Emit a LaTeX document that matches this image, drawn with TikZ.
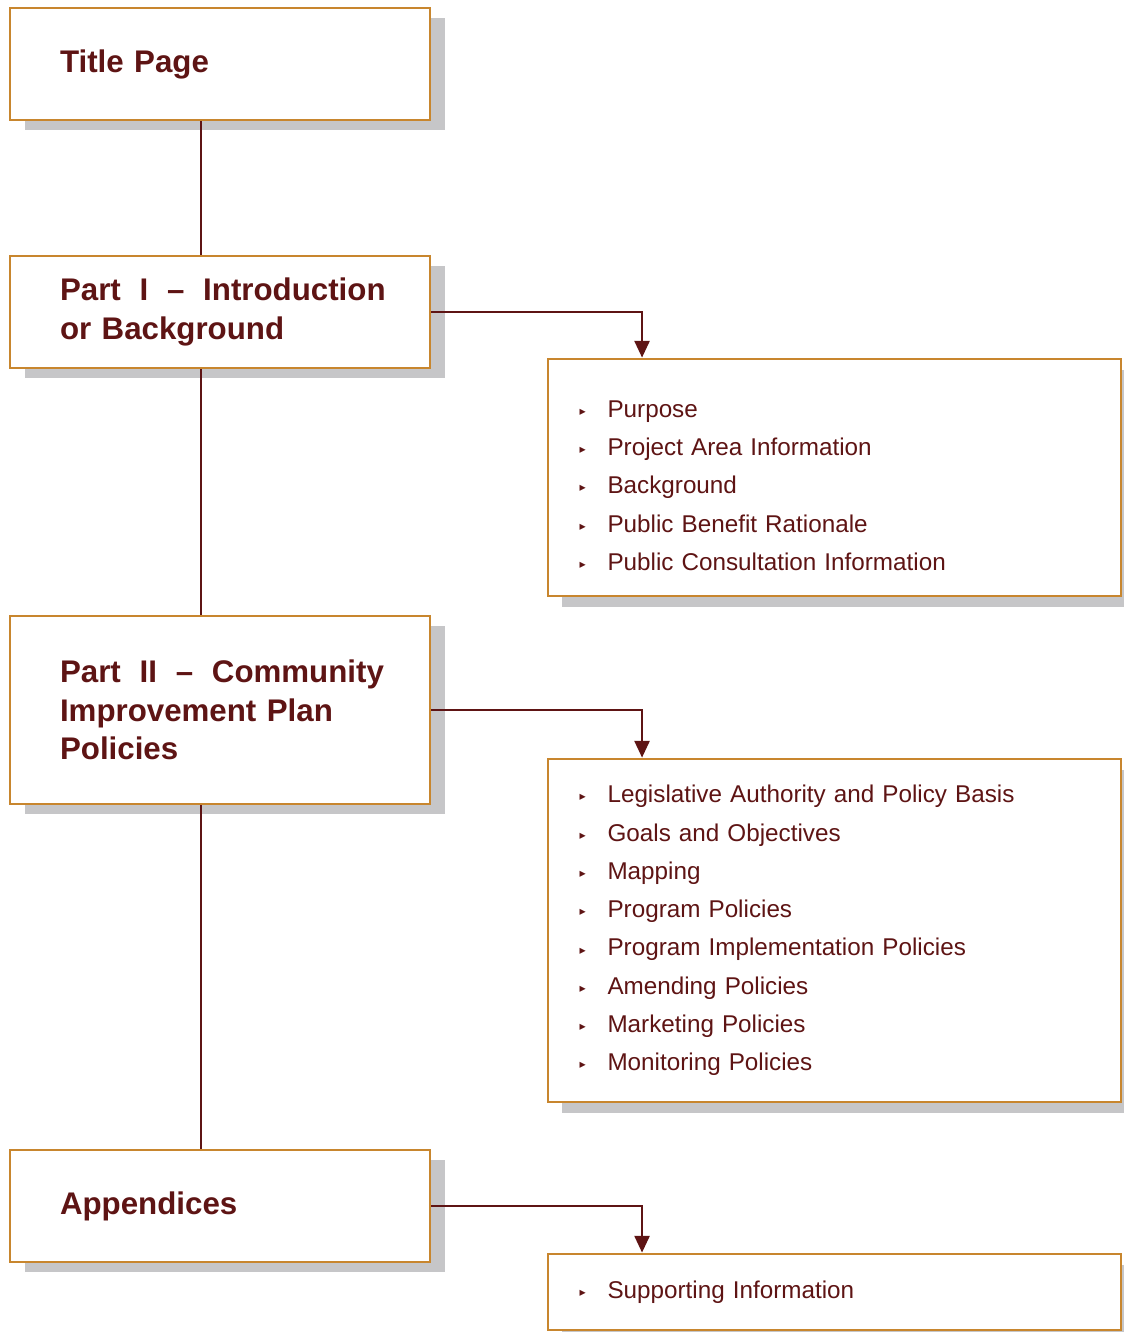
\documentclass[tikz,border=0pt]{standalone}
\usepackage{fontspec}
\setmainfont{Liberation Sans}
\newfontfamily\bulfont{DejaVu Sans}
\usepackage{xcolor}
\usepackage{tikz}
\usetikzlibrary{arrows.meta,shadows}

\definecolor{maroon}{HTML}{5E1414}
\definecolor{ochre}{HTML}{C8862E}
\definecolor{shade}{HTML}{C6C6C8}

\newcommand{\itm}[1]{\makebox[0.56cm][l]{\raisebox{0.15ex}{\bulfont\fontsize{7}{7}\selectfont ▸}}#1}
\newcommand{\gap}{\hspace{0.6em}}

\begin{document}
\begin{tikzpicture}[x=0.02cm, y=-0.02cm]
        \def\lw{8.4cm}
        \def\rw{11.46cm}
        \tikzstyle{part}=[rectangle, draw=ochre, line width=1.6pt, fill=white,
            drop shadow={shadow xshift=0.3cm, shadow yshift=-0.2cm, fill=shade, opacity=1},
            minimum width=\lw, text width=6.4cm, inner xsep=1cm, align=left,
            text=maroon, font=\bfseries\fontsize{17.8}{21.8}\selectfont]
        \tikzstyle{list}=[rectangle, draw=ochre, line width=1.6pt, fill=white,
            drop shadow={shadow xshift=0.28cm, shadow yshift=-0.22cm, fill=shade, opacity=1},
            minimum width=\rw, text width=10.2cm, inner xsep=0.63cm, align=left,
            text=maroon, font=\fontsize{13.8}{21.8}\selectfont]
        \tikzstyle{link}=[draw=maroon, line width=1.4pt]
        \tikzstyle{feed}=[link, -{Triangle[length=9.5pt, width=8.5pt]}]

        \useasboundingbox (0,0) rectangle (1123,1332);

        % Nodes
        \node[part, minimum height=2.24cm] (title) at (220, 64) {Title Page};
        \node[part, minimum height=2.24cm] (part1) at (220, 312) {\mbox{Part\gap I\gap –\gap Introduction}\\or Background};
        \node[part, minimum height=3.76cm] (part2) at (220, 710) {\mbox{Part\gap II\gap –\gap Community}\\Improvement Plan\\Policies};
        \node[part, minimum height=2.24cm] (app) at (220, 1206) {Appendices};

        \node[list, minimum height=4.74cm] (intro) at (834.5, 477.5) {\rule{0pt}{0.66cm}\itm{Purpose}\\\itm{Project Area Information}\\\itm{Background}\\\itm{Public Benefit Rationale}\\\itm{Public Consultation Information}};
        \node[list, minimum height=6.86cm] (cip) at (834.5, 930.5) {\itm{Legislative Authority and Policy Basis}\\\itm{Goals and Objectives}\\\itm{Mapping}\\\itm{Program Policies}\\\itm{Program Implementation Policies}\\\itm{Amending Policies}\\\itm{Marketing Policies}\\\itm{Monitoring Policies}};
        \node[list, minimum height=1.52cm] (supp) at (834.5, 1292) {\itm{Supporting Information}};

        % Edges
        \draw[link] ([xshift=-0.38cm]title.south) to ([xshift=-0.38cm]part1.north);
        \draw[link] ([xshift=-0.38cm]part1.south) to ([xshift=-0.38cm]part2.north);
        \draw[link] ([xshift=-0.38cm]part2.south) to ([xshift=-0.38cm]app.north);

        \draw[feed] (part1.east) -| ([xshift=-3.85cm]intro.north);
        \draw[feed] (part2.east) -| ([xshift=-3.85cm]cip.north);
        \draw[feed] (app.east) -| ([xshift=-3.85cm]supp.north);

    \end{tikzpicture}
\end{document}
